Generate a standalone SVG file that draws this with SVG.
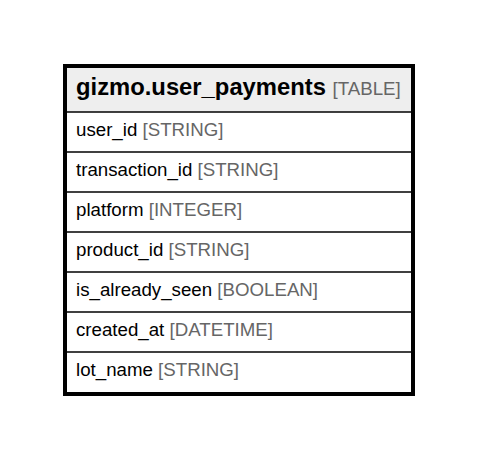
<svg xmlns="http://www.w3.org/2000/svg" width="477" height="459" viewBox="0 0 477 459">
<style>
.t{font-family:"Liberation Sans",Arial,sans-serif;font-size:18.7px;fill:#000}
.ty{fill:#666}
.h{font-family:"Liberation Sans",Arial,sans-serif;font-size:23.8px;font-weight:bold;fill:#000}
.hy{font-size:18.7px;font-weight:normal;fill:#666}
.div{stroke:#000;stroke-width:1.3}
</style>
<rect width="477" height="459" fill="#fff"/>
<g id="user_payments">
<rect x="65" y="66" width="348" height="328" fill="#fff"/>
<rect x="67" y="68" width="344" height="44" fill="#eeeeee"/>
<text class="h" x="76" y="95">gizmo.user_payments <tspan class="hy">[TABLE]</tspan></text>
<line class="div" x1="66" y1="112" x2="412" y2="112"/>
<line class="div" x1="66" y1="152" x2="412" y2="152"/>
<line class="div" x1="66" y1="192" x2="412" y2="192"/>
<line class="div" x1="66" y1="232" x2="412" y2="232"/>
<line class="div" x1="66" y1="272" x2="412" y2="272"/>
<line class="div" x1="66" y1="312" x2="412" y2="312"/>
<line class="div" x1="66" y1="352" x2="412" y2="352"/>
<text class="t" x="76" y="136">user_id <tspan class="ty">[STRING]</tspan></text>
<text class="t" x="76" y="176">transaction_id <tspan class="ty">[STRING]</tspan></text>
<text class="t" x="76" y="216">platform <tspan class="ty">[INTEGER]</tspan></text>
<text class="t" x="76" y="256">product_id <tspan class="ty">[STRING]</tspan></text>
<text class="t" x="76" y="296">is_already_seen <tspan class="ty">[BOOLEAN]</tspan></text>
<text class="t" x="76" y="336">created_at <tspan class="ty">[DATETIME]</tspan></text>
<text class="t" x="76" y="376">lot_name <tspan class="ty">[STRING]</tspan></text>
<rect x="65" y="66" width="348" height="328" fill="none" stroke="#000" stroke-width="4"/>
</g>
</svg>
